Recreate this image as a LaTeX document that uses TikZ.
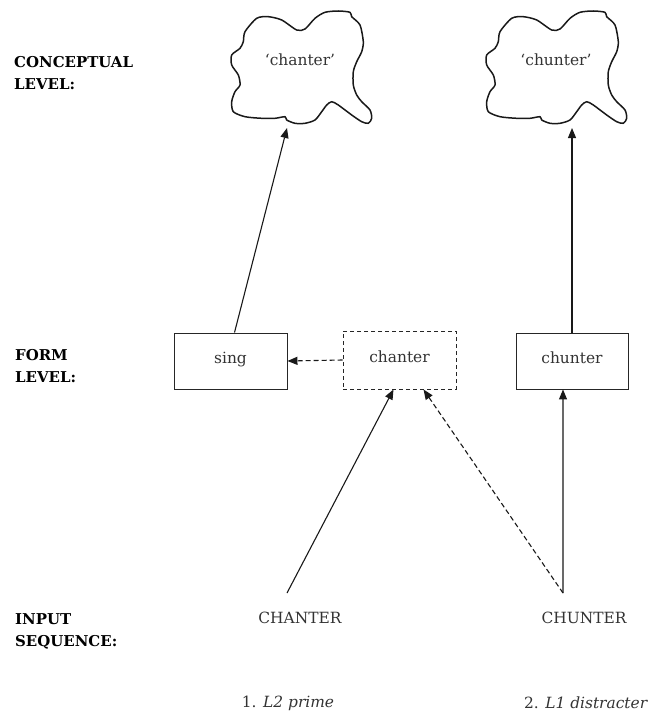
\documentclass[tikz,border=0pt]{standalone}
\usepackage{fontspec}
\setmainfont{DejaVu Serif}
\usetikzlibrary{arrows.meta,calc}
\newcommand\mycloud{%
  \draw[cloudline] plot[smooth cycle, tension=0.45] coordinates {
    (245,31.7) (256.7,18.3) (268.3,16.7) (281.7,20) (296.7,30) (305,29)
    (315,18.3) (325,12.3) (338.3,11) (350,12.3) (351.7,16.7) (360,25)
    (363.3,41.7) (361.7,51.7) (356.7,61.7) (353.3,71.7) (353.3,85)
    (356.7,95) (361.7,101.7) (370,110) (371.7,118.3) (368.3,123.3)
    (361.7,121.7) (351.7,115) (338.3,105) (331.7,101.7) (326.7,105)
    (321.7,111.7) (315,120) (305,123.3) (295,123.3) (286.7,120)
    (285,116.7) (275,118.3) (261.7,118.3) (245,116.7) (233.3,111.7)
    (231.7,101.7) (235,91.7) (240,85) (238.3,75) (231.7,65) (231.7,55)
    (240,48.3) (243.3,41.7)};}
\begin{document}
\begin{tikzpicture}[x=1bp,y=-1bp,
  lbl/.style={font=\fontsize{15}{22.5}\selectfont\bfseries, anchor=north west, inner sep=0pt, align=left},
  txt/.style={font=\fontsize{15.5}{18}\selectfont, text=black!80},
  box/.style={draw=black!85, line width=0.9bp, minimum width=113bp, minimum height=56bp, inner sep=0pt,
    text height=11bp, text depth=6bp, font=\fontsize{15.5}{18}\selectfont, text=black!80},
  dbox/.style={box, dash pattern=on 4bp off 3bp},
  arr/.style={line width=1.1bp, draw=black!90, -{Triangle[length=10bp,width=8bp]}},
  darr/.style={arr, dash pattern=on 5bp off 3bp},
  cloudline/.style={line width=1.5bp, line join=round, draw=black!90}
]
\useasboundingbox (0,0) rectangle (648,718);

% level labels
\node[lbl] (lconc) at (14,56) {CONCEPTUAL\\LEVEL:};
\node[lbl] (lform) at (15,349) {FORM\\LEVEL:};
\node[lbl] (linput) at (15,613) {INPUT\\SEQUENCE:};

% clouds
\mycloud
\begin{scope}[xshift=255bp]
\mycloud
\end{scope}
\node[txt, anchor=base] (cchanter) at (300,66) {‘chanter’};
\node[txt, anchor=base] (cchunter) at (556,66) {‘chunter’};
\coordinate (c1) at (287,128);
\coordinate (c2) at (572,128);

% form level boxes
\node[box] (sing) at (230.5,361) {sing};
\node[dbox, minimum height=58bp] (chanter) at (399.5,360) {chanter};
\node[box, minimum width=112bp] (chunter) at (572,361) {chunter};

% input sequence
\node[txt] (inA) at (300,618) {CHANTER};
\node[txt] (inB) at (584,618) {CHUNTER};
\coordinate (sA) at (287,593);
\coordinate (sB) at (563,593);

% captions
\node[txt] (capA) at (288,703) {1. \textit{L2 prime}};
\node[txt] (capB) at (586,703) {2. \textit{L1 distracter}};

% connectors
\draw[arr] ([xshift=4bp]sing.north) -- (c1);
\draw[arr] (chunter.north) -- (c2);
\draw[darr] (chanter.west) -- (sing.east);
\draw[arr] (sA) -- ([xshift=-6bp]chanter.south);
\draw[darr] (sB) -- ([xshift=24bp]chanter.south);
\draw[arr] (sB) -- ([xshift=-9bp]chunter.south);
\end{tikzpicture}
\end{document}
